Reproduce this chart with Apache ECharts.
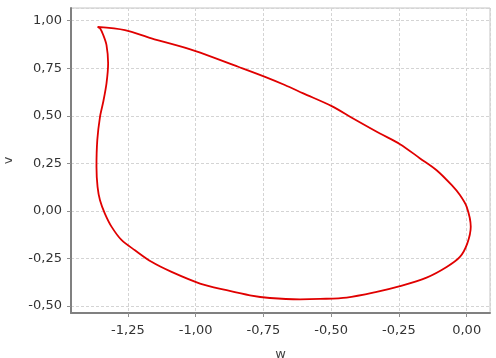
<!DOCTYPE html>
<html>
<head>
<meta charset="utf-8">
<script src="https://cdn.jsdelivr.net/npm/echarts@6/dist/echarts.min.js"></script>
<style>
  html, body { margin: 0; padding: 0; background: #fff; }
  #grafico { width: 496px; height: 358px; }
</style>
</head>
<body>
<div id="grafico"></div>
<script>
// w (eixo x) e v (eixo y), seguindo a curva fechada
const wValores = [
  -1.362, -1.261, -1.163, -1.003, -0.843, -0.744, -0.671, -0.603, -0.498, -0.419,
  -0.320, -0.246, -0.172, -0.111, -0.055, -0.025, 0.000, 0.015, 0.002, -0.025,
  -0.074, -0.148, -0.246, -0.332, -0.443, -0.541, -0.615, -0.726, -0.800, -0.886,
  -0.984, -1.089, -1.163, -1.224, -1.273, -1.310, -1.335, -1.353, -1.362, -1.366,
  -1.363, -1.353, -1.341, -1.329, -1.323, -1.329, -1.341, -1.353, -1.362
];
const vValores = [
  0.968, 0.951, 0.907, 0.842, 0.758, 0.705, 0.662, 0.618, 0.551, 0.486,
  0.407, 0.351, 0.276, 0.214, 0.135, 0.083, 0.021, -0.084, -0.172, -0.242,
  -0.295, -0.351, -0.396, -0.426, -0.456, -0.463, -0.465, -0.458, -0.444, -0.417,
  -0.382, -0.321, -0.268, -0.207, -0.154, -0.084, -0.014, 0.056, 0.126, 0.232,
  0.372, 0.495, 0.574, 0.671, 0.776, 0.872, 0.925, 0.960, 0.968
];

const pontos = wValores.map((w, i) => [w, vValores[i]]);

// formato com virgula decimal
const formatarTick = (valor) => valor.toFixed(2).replace('.', ',');

const eixoComum = {
  axisTick: { show: true, length: 4, lineStyle: { color: '#909090' } },
  splitLine: { show: true, lineStyle: { color: '#d4d4d4', type: [3, 2] } },
  axisLabel: {
    showMinLabel: false,
    showMaxLabel: false,
    color: '#333',
    fontFamily: 'DejaVu Sans',
    fontSize: 13,
    formatter: formatarTick,
  },
  nameLocation: 'middle',
  nameTextStyle: { color: '#444', fontFamily: 'DejaVu Sans', fontSize: 13 },
  minInterval: 0.25,
  maxInterval: 0.25,
};

const myChart = echarts.init(document.getElementById('grafico'));

const option = {
  backgroundColor: '#ffffff',
  animation: false,
  grid: {
    left: 71,
    right: 6,
    top: 8,
    bottom: 45,
    outerBoundsMode: 'none',
    containLabel: false,
    show: true,
    borderColor: '#c4c4c4',
    borderWidth: 1,
  },
  xAxis: {
    ...eixoComum,
    type: 'value',
    name: 'w',
    nameGap: 35,
    min: -1.46,
    max: 0.086,
    axisLine: { show: true, onZero: false, lineStyle: { color: '#808080', width: 2 } },
    axisLabel: { ...eixoComum.axisLabel, margin: 11 },
  },
  yAxis: {
    ...eixoComum,
    type: 'value',
    name: 'v',
    nameGap: 56,
    nameRotate: 90,
    min: -0.537,
    max: 1.067,
    axisLine: { show: true, onZero: false, lineStyle: { color: '#808080', width: 2 } },
    axisLabel: { ...eixoComum.axisLabel, margin: 9 },
  },
  series: [
    {
      type: 'line',
      data: pontos,
      showSymbol: false,
      smooth: 0.3,
      lineStyle: { color: '#e00000', width: 1.8 },
    },
  ],
};

myChart.setOption(option);
</script>
</body>
</html>
